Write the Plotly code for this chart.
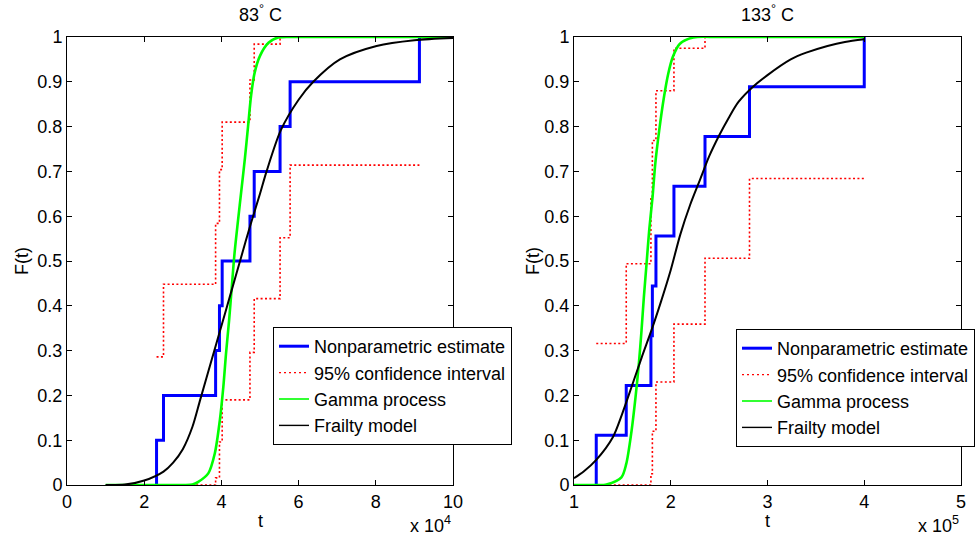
import plotly.graph_objects as go

# ---------------- Left panel: 83 °C ----------------
left_times = [2.32e4, 2.50e4, 3.85e4, 3.95e4, 4.02e4, 4.74e4, 4.85e4, 5.52e4, 5.78e4, 9.13e4]
left_F = [0.1, 0.2, 0.3, 0.4, 0.5, 0.6, 0.7, 0.8, 0.9, 1.0]
left_upper = [0.286, 0.448, 0.584, 0.704, 0.810, 0.904, 0.984, 1.0, 1.0, 1.0]
left_lower = [0.0, 0.0, 0.016, 0.096, 0.190, 0.296, 0.416, 0.552, 0.714, 0.714]

left_gamma_t = [1.0e4, 3.0e4, 3.25e4, 3.40e4, 3.66e4, 3.83e4, 3.96e4, 4.05e4, 4.12e4, 4.20e4,
                4.27e4, 4.34e4, 4.43e4, 4.52e4, 4.61e4, 4.69e4, 4.77e4, 4.86e4, 5.00e4,
                5.22e4, 5.47e4, 6.0e4, 10.0e4]
left_gamma_F = [0.0, 0.0, 0.001, 0.007, 0.026, 0.071, 0.145, 0.219, 0.294, 0.368,
                0.443, 0.517, 0.59, 0.66, 0.73, 0.80, 0.87, 0.92, 0.958,
                0.987, 0.999, 1.0, 1.0]

left_frailty_t = [1.0e4, 1.5e4, 2.0e4, 2.5e4, 2.75e4, 3.0e4, 3.25e4, 3.45e4, 3.75e4, 4.0e4,
                  4.25e4, 4.5e4, 4.75e4, 5.0e4, 5.17e4, 5.54e4, 6.0e4, 6.38e4, 7.07e4,
                  8.02e4, 9.0e4, 10.0e4]
left_frailty_F = [0.0, 0.001, 0.01, 0.03, 0.05, 0.08, 0.13, 0.19, 0.28, 0.355,
                  0.43, 0.505, 0.58, 0.65, 0.70, 0.792, 0.86, 0.90, 0.95,
                  0.98, 0.993, 0.998]

# ---------------- Right panel: 133 °C ----------------
right_times = [1.23e5, 1.54e5, 1.795e5, 1.81e5, 1.847e5, 2.033e5, 2.354e5, 2.814e5, 4.0e5]
right_F = [0.111, 0.222, 0.333, 0.444, 0.556, 0.667, 0.778, 0.889, 1.0]
right_upper = [0.316, 0.494, 0.641, 0.769, 0.880, 0.975, 1.0, 1.0, 1.0]
right_lower = [0.0, 0.0, 0.025, 0.120, 0.230, 0.359, 0.506, 0.684, 0.684]

right_gamma_t = [1.0e5, 1.3e5, 1.336e5, 1.49e5, 1.54e5, 1.595e5, 1.636e5, 1.67e5, 1.698e5,
                 1.722e5, 1.75e5, 1.777e5, 1.812e5, 1.84e5, 1.881e5, 1.93e5, 1.974e5,
                 2.02e5, 2.095e5, 2.233e5, 2.5e5, 4.0e5]
right_gamma_F = [0.0, 0.0, 0.001, 0.017, 0.047, 0.121, 0.196, 0.27, 0.345,
                 0.419, 0.494, 0.568, 0.643, 0.717, 0.792, 0.866, 0.918,
                 0.955, 0.985, 0.999, 1.0, 1.0]

right_frailty_t = [1.0e5, 1.1e5, 1.23e5, 1.4e5, 1.5e5, 1.6e5, 1.7e5, 1.8e5, 1.9e5, 2.0e5,
                   2.1e5, 2.2e5, 2.3e5, 2.4e5, 2.5e5, 2.6e5, 2.7e5, 2.85e5, 3.0e5,
                   3.24e5, 3.4e5, 3.62e5, 3.8e5, 4.0e5]
right_frailty_F = [0.015, 0.03, 0.056, 0.106, 0.16, 0.222, 0.285, 0.345, 0.41, 0.48,
                   0.56, 0.625, 0.68, 0.735, 0.78, 0.82, 0.855, 0.889, 0.915,
                   0.95, 0.965, 0.98, 0.989, 0.995]

# ---------------- Labels ----------------
legend_names = ["Nonparametric estimate", "95% confidence interval", "Gamma process", "Frailty model"]
titles = ["83<sup>°</sup> C", "133<sup>°</sup> C"]
left_xtick_vals = [0, 2e4, 4e4, 6e4, 8e4, 10e4]
left_xtick_text = ["0", "2", "4", "6", "8", "10"]
right_xtick_vals = [1e5, 2e5, 3e5, 4e5, 5e5]
right_xtick_text = ["1", "2", "3", "4", "5"]
ytick_vals = [0, 0.1, 0.2, 0.3, 0.4, 0.5, 0.6, 0.7, 0.8, 0.9, 1.0]
ytick_text = ["0", "0.1", "0.2", "0.3", "0.4", "0.5", "0.6", "0.7", "0.8", "0.9", "1"]
multipliers = ["x 10<sup>4</sup>", "x 10<sup>5</sup>"]

BLUE = "rgb(0,0,255)"
RED = "rgb(255,0,0)"
GREEN = "rgb(0,255,0)"
BLACK = "rgb(0,0,0)"
FONT = "Liberation Sans, Arial, Helvetica, sans-serif"
FS = 18

fig = go.Figure()


def add_panel(times, F, upper, lower, gt, gF, ft, fF, xa, ya, leg):
    fig.add_trace(go.Scatter(x=[times[0]] + times, y=[0] + F, mode="lines",
                             line=dict(color=BLUE, width=3, shape="hv"),
                             xaxis=xa, yaxis=ya, showlegend=False, hoverinfo="skip"))
    fig.add_trace(go.Scatter(x=times, y=upper, mode="lines",
                             line=dict(color=RED, width=1.6, shape="hv", dash="2px,2.4px"),
                             xaxis=xa, yaxis=ya, showlegend=False, hoverinfo="skip"))
    fig.add_trace(go.Scatter(x=times, y=lower, mode="lines",
                             line=dict(color=RED, width=1.6, shape="hv", dash="2px,2.4px"),
                             xaxis=xa, yaxis=ya, showlegend=False, hoverinfo="skip"))
    fig.add_trace(go.Scatter(x=gt, y=gF, mode="lines",
                             line=dict(color=GREEN, width=2.6, shape="spline", smoothing=0.8),
                             xaxis=xa, yaxis=ya, showlegend=False, hoverinfo="skip"))
    fig.add_trace(go.Scatter(x=ft, y=fF, mode="lines",
                             line=dict(color=BLACK, width=2, shape="spline", smoothing=0.8),
                             xaxis=xa, yaxis=ya, showlegend=False, hoverinfo="skip"))
    # legend-only entries
    styles = [dict(color=BLUE, width=3), dict(color=RED, width=1.4, dash="2px,3px"),
              dict(color=GREEN, width=1.6), dict(color=BLACK, width=1.4)]
    for name, st in zip(legend_names, styles):
        fig.add_trace(go.Scatter(x=[None], y=[None], mode="lines", line=st, name=name,
                                 xaxis=xa, yaxis=ya, showlegend=True, legend=leg))


add_panel(left_times, left_F, left_upper, left_lower, left_gamma_t, left_gamma_F,
          left_frailty_t, left_frailty_F, "x", "y", "legend")
add_panel(right_times, right_F, right_upper, right_lower, right_gamma_t, right_gamma_F,
          right_frailty_t, right_frailty_F, "x2", "y2", "legend2")

W, H = 980, 538
ax_common = dict(showline=True, linecolor="black", linewidth=1, mirror="ticks",
                 ticks="inside", ticklen=5, tickcolor="black", tickwidth=1,
                 showgrid=False, zeroline=False, automargin=False,
                 tickfont=dict(family=FONT, size=FS, color="black"))
ybot = (H - 485) / H
ytop = (H - 37) / H

fig.update_layout(
    width=W, height=H,
    margin=dict(l=0, r=0, t=0, b=0, autoexpand=False),
    paper_bgcolor="white", plot_bgcolor="white",
    font=dict(family=FONT, size=FS, color="black"),
    xaxis=dict(domain=[67 / W, 453 / W], range=[0, 10e4], tickvals=left_xtick_vals,
               ticktext=left_xtick_text, anchor="y", **ax_common),
    yaxis=dict(domain=[ybot, ytop], range=[0, 1], tickvals=ytick_vals,
               ticktext=ytick_text, anchor="x", **ax_common),
    xaxis2=dict(domain=[574 / W, 961 / W], range=[1e5, 5e5], tickvals=right_xtick_vals,
                ticktext=right_xtick_text, anchor="y2", **ax_common),
    yaxis2=dict(domain=[ybot, ytop], range=[0, 1], tickvals=ytick_vals,
                ticktext=ytick_text, anchor="x2", **ax_common),
    legend=dict(x=273 / W, y=(H - 327) / H, xanchor="left", yanchor="top",
                bgcolor="white", bordercolor="black", borderwidth=1,
                font=dict(family=FONT, size=FS, color="black"), tracegroupgap=0),
    legend2=dict(x=736 / W, y=(H - 329) / H, xanchor="left", yanchor="top",
                 bgcolor="white", bordercolor="black", borderwidth=1,
                 font=dict(family=FONT, size=FS, color="black"), tracegroupgap=0),
    showlegend=True,
)

annos = []
for i, (cx, title, mult, rx) in enumerate([(260, titles[0], multipliers[0], 453),
                                          (767.5, titles[1], multipliers[1], 961)]):
    annos.append(dict(text=title, x=cx / W, y=(H - 13) / H, xref="paper", yref="paper",
                      xanchor="center", yanchor="middle", showarrow=False,
                      font=dict(family=FONT, size=FS)))
    annos.append(dict(text="t", x=cx / W, y=(H - 521) / H, xref="paper", yref="paper",
                      xanchor="center", yanchor="middle", showarrow=False,
                      font=dict(family=FONT, size=FS)))
    annos.append(dict(text=mult, x=rx / W, y=(H - 524) / H, xref="paper", yref="paper",
                      xanchor="right", yanchor="middle", showarrow=False,
                      font=dict(family=FONT, size=FS)))
for fx in [22, 533]:
    annos.append(dict(text="F(t)", x=fx / W, y=(H - 261) / H, xref="paper", yref="paper",
                      xanchor="center", yanchor="middle", textangle=-90, showarrow=False,
                      font=dict(family=FONT, size=FS)))
fig.update_layout(annotations=annos)

fig.write_html("out.html")
